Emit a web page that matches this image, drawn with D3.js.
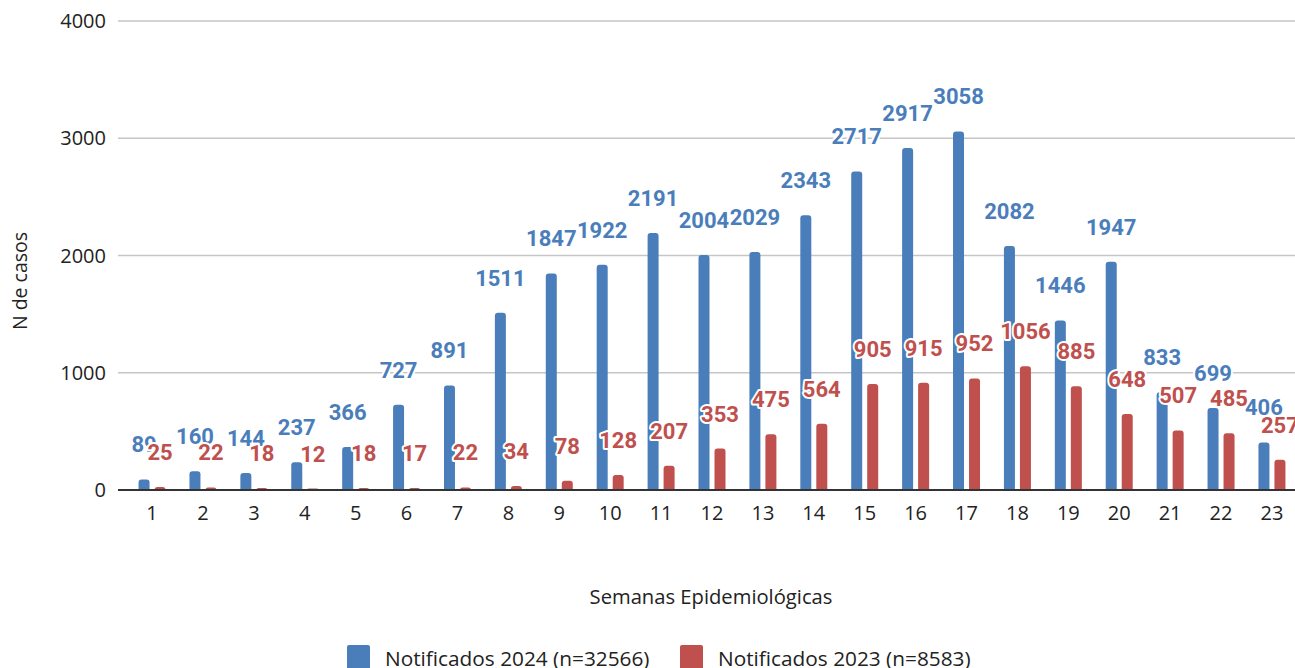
<!DOCTYPE html>
<html>
<head>
<meta charset="utf-8">
<script src="https://cdn.jsdelivr.net/npm/d3@7"></script>
<style>
  body { margin: 0; background: #fff; }
  svg { display: block; }
</style>
</head>
<body>
<div id="chart"></div>
<script>
// weeks and the two series
var weeks = ["1","2","3","4","5","6","7","8","9","10","11","12","13","14","15","16","17","18","19","20","21","22","23"];
var casos2024 = [89,160,144,237,366,727,891,1511,1847,1922,2191,2004,2029,2343,2717,2917,3058,2082,1446,1947,833,699,406];
var casos2023 = [25,22,18,12,18,17,22,34,78,128,207,353,475,564,905,915,952,1056,885,648,507,485,257];
var yTicks = [0,1000,2000,3000,4000];
var seriesNames = ["Notificados 2024 (n=32566)", "Notificados 2023 (n=8583)"];
var seriesColors = ["#4a7ebb", "#c0504d"];

var width = 1295, height = 668;

var svg = d3.select("#chart").append("svg")
    .attr("width", width)
    .attr("height", height);

var x = d3.scaleBand().domain(weeks).range([126.6, 1297.4]);
var bw = x.bandwidth();
var xSub = d3.scaleBand().domain([0, 1])
    .range([bw / 2 - 16, bw / 2 + 16])
    .paddingInner(0.3125)
    .paddingOuter(0.15625);
var y = d3.scaleLinear().domain([0, 4000]).range([490, 21]);

// gridlines
svg.append("g").selectAll("line")
  .data(yTicks.filter(function(d) { return d > 0; }))
  .enter().append("line")
    .attr("x1", 118).attr("x2", width)
    .attr("y1", function(d) { return y(d); })
    .attr("y2", function(d) { return y(d); })
    .attr("stroke", "#c6c6c6")
    .attr("stroke-width", 1.6);

// y tick labels
svg.append("g").selectAll("text")
  .data(yTicks)
  .enter().append("text")
    .attr("x", 106)
    .attr("y", function(d) { return y(d); })
    .attr("dy", "0.36em")
    .attr("text-anchor", "end")
    .style("font-family", "'Open Sans', sans-serif")
    .style("font-size", "20px")
    .attr("fill", "#222")
    .text(function(d) { return d; });

// rounded-top bar path
function barPath(x0, w, y0, y1, r) {
  var h = y1 - y0;
  r = Math.min(r, h, w / 2);
  return "M" + x0 + "," + y1 +
    "V" + (y0 + r) +
    "Q" + x0 + "," + y0 + " " + (x0 + r) + "," + y0 +
    "H" + (x0 + w - r) +
    "Q" + (x0 + w) + "," + y0 + " " + (x0 + w) + "," + (y0 + r) +
    "V" + y1 + "Z";
}

var series = [casos2024, casos2023];

series.forEach(function(vals, si) {
  svg.append("g").selectAll("path")
    .data(vals)
    .enter().append("path")
      .attr("d", function(d, i) {
        return barPath(x(weeks[i]) + xSub(si), xSub.bandwidth(), y(d), y(0), 3);
      })
      .attr("fill", seriesColors[si]);
});

// baseline
svg.append("line")
  .attr("x1", 118).attr("x2", width)
  .attr("y1", y(0)).attr("y2", y(0))
  .attr("stroke", "#333")
  .attr("stroke-width", 1.8);

// x tick labels
svg.append("g").selectAll("text")
  .data(weeks)
  .enter().append("text")
    .attr("x", function(d) { return x(d) + bw / 2; })
    .attr("y", 513)
    .attr("dy", "0.36em")
    .attr("text-anchor", "middle")
    .style("font-family", "'Open Sans', sans-serif")
    .style("font-size", "20px")
    .attr("fill", "#222")
    .text(function(d) { return d; });

// data labels with white halo
series.forEach(function(vals, si) {
  svg.append("g").selectAll("text")
    .data(vals)
    .enter().append("text")
      .attr("x", function(d, i) { return x(weeks[i]) + xSub(si) + xSub.bandwidth() / 2; })
      .attr("y", function(d) { return y(d) - 35; })
      .attr("dy", "0.36em")
      .attr("text-anchor", "middle")
      .style("font-family", "Roboto, sans-serif")
      .style("font-weight", "bold")
      .style("font-size", "22px")
      .style("paint-order", "stroke")
      .attr("stroke", "#fff")
      .attr("stroke-width", 4)
      .attr("stroke-linejoin", "round")
      .attr("fill", seriesColors[si])
      .text(function(d) { return d; });
});

// axis titles
svg.append("text")
  .attr("transform", "translate(20,281) rotate(-90)")
  .attr("dy", "0.36em")
  .attr("text-anchor", "middle")
  .style("font-family", "'Open Sans', sans-serif")
  .style("font-size", "19.5px")
  .attr("fill", "#222")
  .text("N de casos");

svg.append("text")
  .attr("x", 711)
  .attr("y", 597)
  .attr("dy", "0.36em")
  .attr("text-anchor", "middle")
  .style("font-family", "'Open Sans', sans-serif")
  .style("font-size", "20.2px")
  .attr("fill", "#222")
  .text("Semanas Epidemiológicas");

// legend
var legendX = [347, 680];
var legend = svg.append("g").selectAll("g")
  .data(seriesNames)
  .enter().append("g")
    .attr("transform", function(d, i) { return "translate(" + legendX[i] + ",645)"; });

legend.append("rect")
  .attr("width", 23).attr("height", 26)
  .attr("rx", 2)
  .attr("fill", function(d, i) { return seriesColors[i]; });

legend.append("text")
  .attr("x", 38)
  .attr("y", 13)
  .attr("dy", "0.36em")
  .style("font-family", "'Open Sans', sans-serif")
  .style("font-size", "20.8px")
  .attr("fill", "#222")
  .text(function(d) { return d; });
</script>
</body>
</html>
